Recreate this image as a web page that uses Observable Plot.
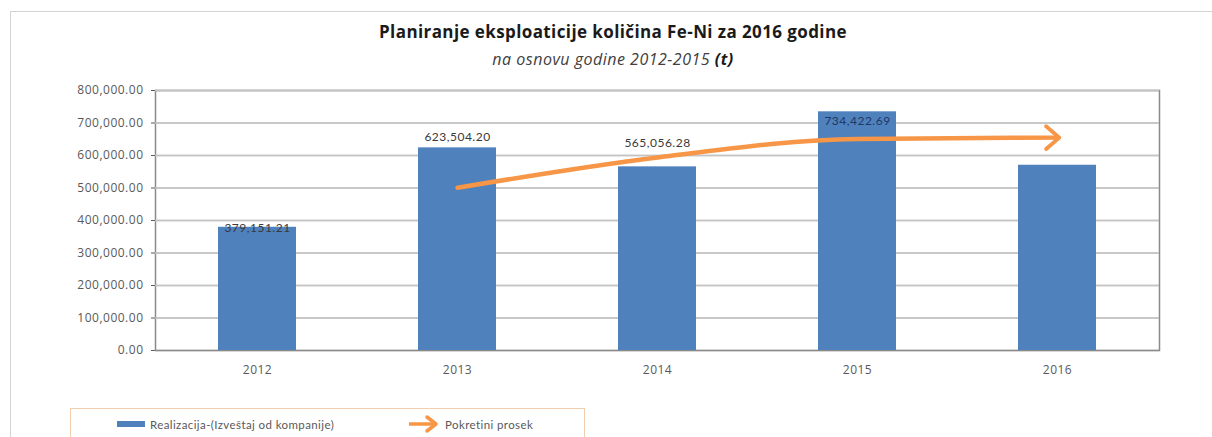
<!DOCTYPE html>
<html>
<head>
<meta charset="utf-8">
<script src="https://cdn.jsdelivr.net/npm/d3@7"></script>
<script src="https://cdn.jsdelivr.net/npm/@observablehq/plot@0.6"></script>
<style>
  html, body { margin: 0; padding: 0; background: #fff; }
  #wrap { position: relative; width: 1212px; height: 437px; overflow: hidden; font-family: Lato, "Open Sans", sans-serif; }
  #border { position: absolute; left: 10px; top: 11px; width: 1220px; height: 460px; border: 1px solid #d4d4d4; box-sizing: border-box; }
  #title { position: absolute; left: 0; width: 1226px; top: 21px; text-align: center; font-family: "Open Sans", sans-serif; font-weight: bold; font-size: 17px; letter-spacing: 0.4px; color: #1a1a1a; line-height: 22px; }
  #subtitle { position: absolute; left: 0; width: 1226px; top: 48px; text-align: center; font-family: "Open Sans", sans-serif; font-style: italic; font-size: 16px; letter-spacing: 0.5px; color: #404040; line-height: 22px; }
  #subtitle b { color: #1a1a1a; }
  #chart { position: absolute; left: 0; top: 80px; }
  #legend { position: absolute; left: 70px; top: 408px; width: 515px; height: 34px; border: 1px solid #efcfae; box-sizing: border-box; font-size: 11.5px; letter-spacing: 0.4px; color: #595959; }
  .li { position: absolute; top: 7px; display: flex; align-items: center; height: 16px; }
  .sw { display: inline-block; width: 28px; height: 6px; background: #4f81bd; margin-right: 5px; }
</style>
</head>
<body>
<div id="wrap">
  <div id="border"></div>
  <div id="title">Planiranje eksploaticije količina Fe-Ni za 2016 godine</div>
  <div id="subtitle">na osnovu godine 2012-2015 <b>(t)</b></div>
  <div id="chart"></div>
  <div id="legend">
    <div class="li" style="left:46px"><span class="sw"></span><span>Realizacija-(Izveštaj od kompanije)</span></div>
    <div class="li" style="left:337px">
      <svg width="32" height="20" style="margin-right:5px"><path d="M1,10H27" stroke="#f79646" stroke-width="3.5" fill="none"/><path d="M19,3L28,10L19,17" stroke="#f79646" stroke-width="3.5" fill="none" stroke-linecap="round" stroke-linejoin="round"/></svg>
      <span>Pokretini prosek</span>
    </div>
  </div>
</div>
<script>
const years = ["2012", "2013", "2014", "2015", "2016"];
const realizacija = [379151.21, 623504.20, 565056.28, 734422.69, 570000];
const labelYears = ["2012", "2013", "2014", "2015"];
const labelTexts = ["379,151.21", "623,504.20", "565,056.28", "734,422.69"];
const prosekYears = ["2013", "2014", "2015", "2016"];
const prosek = [501000, 594000, 651000, 655000];
const yTicks = [0, 100000, 200000, 300000, 400000, 500000, 600000, 700000, 800000];

const bars = years.map((y, i) => ({year: y, value: realizacija[i]}));
const avg = prosekYears.map((y, i) => ({year: y, value: prosek[i]}));
const labelOffsets = [1, -11, -24, 9];
const labelColors = ["#3a3a3a", "#3a3a3a", "#3a3a3a", "#1f3864"];

function bigArrow(color, context) {
  const doc = (context && context.document) || document;
  const ns = "http://www.w3.org/2000/svg";
  const m = doc.createElementNS(ns, "marker");
  m.setAttribute("viewBox", "-5 -5 10 10");
  m.setAttribute("markerWidth", 6.67);
  m.setAttribute("markerHeight", 6.67);
  m.setAttribute("orient", "auto");
  m.setAttribute("fill", "none");
  m.setAttribute("stroke", color);
  m.setAttribute("stroke-width", 1.3);
  m.setAttribute("stroke-linecap", "round");
  m.setAttribute("stroke-linejoin", "round");
  const p = doc.createElementNS(ns, "path");
  p.setAttribute("d", "M-3.8,-3.8L0.6,0L-3.8,3.8");
  m.appendChild(p);
  return m;
}

const labelMarks = labelYears.map((y, i) => Plot.text([{year: y, value: realizacija[years.indexOf(y)], t: labelTexts[i]}], {
  x: "year", y: "value", text: "t", dy: labelOffsets[i], fill: labelColors[i], fontSize: 12,
  fontFamily: "Lato, sans-serif"
}));

function build(marker) {
  return Plot.plot({
    width: 1212,
    height: 300,
    marginTop: 10,
    marginBottom: 30,
    marginLeft: 155,
    marginRight: 53,
    style: {fontFamily: "'Open Sans', sans-serif", fontSize: "12px", color: "#595959", background: "transparent", letterSpacing: "0.5px"},
    x: {domain: years, paddingInner: 0.61, paddingOuter: 0.305, align: 0.5, label: null, tickSize: 0, tickPadding: 15},
    y: {domain: [0, 800000], ticks: yTicks, tickFormat: d3.format(",.2f"), label: null, tickSize: 4, tickPadding: 8},
    marks: [
      Plot.ruleY(yTicks, {stroke: "#c4c4c4", strokeWidth: 1.5}),
      Plot.frame({stroke: "#8a8a8a", strokeWidth: 1.5}),
      Plot.ruleY(yTicks.slice(1), {stroke: "#c4c4c4", strokeWidth: 1.5}),
      Plot.barY(bars, {x: "year", y: "value", fill: "#4f81bd"}),
      Plot.line(avg, {x: "year", y: "value", stroke: "#f79646", strokeWidth: 4.5, curve: "monotone-x", markerEnd: marker}),
      ...labelMarks
    ]
  });
}
let chart;
try { chart = build(bigArrow); } catch (e) { chart = build("arrow"); }
document.getElementById("chart").appendChild(chart);
</script>
</body>
</html>
